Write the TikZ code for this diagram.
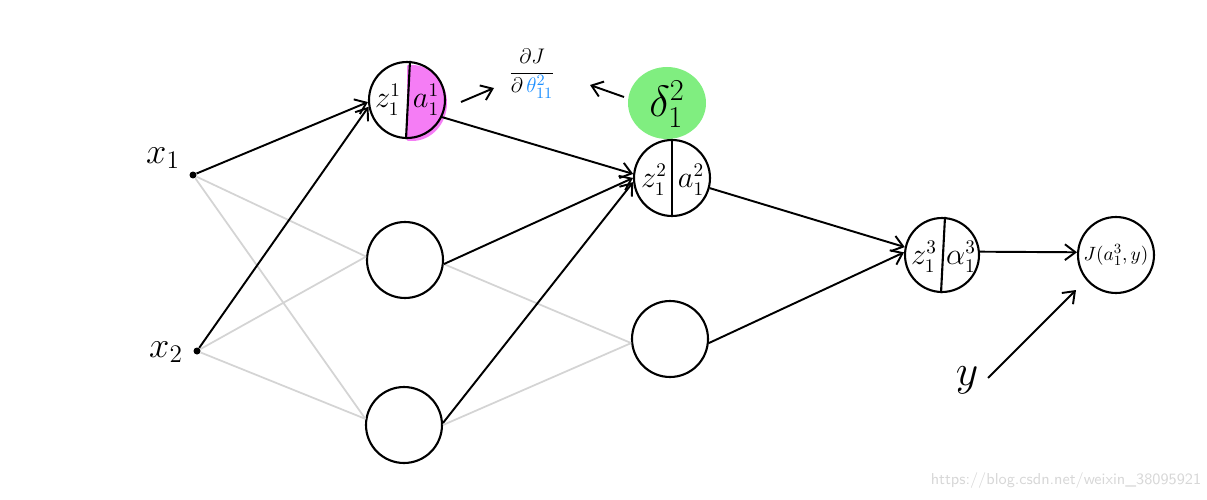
\documentclass[tikz,border=0pt]{standalone}
\usetikzlibrary{arrows.meta}
\definecolor{pinkfill}{RGB}{245,125,245}
\definecolor{greenfill}{RGB}{128,238,128}
\definecolor{thetablue}{RGB}{30,144,255}
\definecolor{lightgrayline}{RGB}{212,212,212}
\definecolor{wm}{RGB}{215,215,215}
\begin{document}
\begin{tikzpicture}[x=0.02cm,y=-0.02cm,
  neuron/.style={circle, draw, line width=1.2pt, minimum size=1.52cm, inner sep=0pt},
  inputdot/.style={circle, fill, inner sep=0pt, minimum size=0.14cm},
  conn/.style={line width=1.1pt, -{Straight Barb[length=6pt,width=9pt,line width=1.1pt]}},
  grayconn/.style={line width=1pt, lightgrayline},
  divider/.style={line width=1.2pt},
  lbl/.style={font=\fontsize{20}{24}\selectfont},
  inlbl/.style={font=\fontsize{16}{19}\selectfont, inner sep=0pt}
]
\useasboundingbox (0,0) rectangle (1207,500);

% highlights
\begin{scope}
  \clip (407,40) rectangle (470,160);
  \fill[pinkfill] (412,103) ellipse (35 and 38);
\end{scope}
\fill[greenfill] (667,103) ellipse (39 and 36);

% neurons
\node[neuron] (h11) at (407,100) {};
\node[neuron] (h12) at (405,260) {};
\node[neuron] (h13) at (404,425) {};
\node[neuron] (h21) at (672,178) {};
\node[neuron] (h22) at (670,339) {};
\node[neuron, minimum size=1.48cm] (o) at (942,255) {};
\node[neuron, font=\fontsize{11}{13}\selectfont] (J) at (1116,255) {$J(a^3_1,y)$};

% dividers and inner labels
\draw[divider] ([xshift=0.06cm]h11.north) -- ([xshift=-0.02cm]h11.south);
\node[inlbl] (z11) at (388,100) {$z^1_1$};
\node[inlbl] (a11) at (426,100) {$a^1_1$};
\draw[divider] (h21.north) -- (h21.south);
\node[inlbl] (z21) at (654,180) {$z^2_1$};
\node[inlbl] (a21) at (691,180) {$a^2_1$};
\draw[divider] ([xshift=0.06cm]o.north) -- ([xshift=-0.02cm]o.south);
\node[inlbl] (z31) at (924,257) {$z^3_1$};
\node[inlbl] (a31) at (961,257) {$\alpha^3_1$};

% inputs
\node[inputdot] (x1) at (193,175) {};
\node[inputdot] (x2) at (197,351) {};
\node[lbl] (lx1) at (163,158) {$x_1$};
\node[lbl] (lx2) at (166,352) {$x_2$};

% gray connections
\draw[grayconn] (x1) -- (h12.175);
\draw[grayconn] (x1) -- (h13.171);
\draw[grayconn] (x2) -- (h12.175);
\draw[grayconn] (x2) -- (h13.171);
\draw[grayconn] (h12.354) -- (h22.186);
\draw[grayconn] (h13.0) -- (h22.186);

% black connections
\draw[conn] (x1) -- (h11.183);
\draw[conn] (x2) -- (h11.190);
\draw[conn] (h11.334) -- (h21.174);
\draw[conn] (h12.354) -- (h21.180);
\draw[conn] (h13.3) -- (h21.186);
\draw[conn] (h21.345) -- (o.168);
\draw[conn] (h22.354) -- (o.176);
\draw[conn] (o.5) -- (J.176);

% y input
\node[font=\fontsize{28}{32}\selectfont] (ly) at (967,380) {$y$};
\coordinate (ya) at (988,378);
\coordinate (yb) at (1076,290);
\draw[conn] (ya) -- (yb);

% gradient annotation
\coordinate (ga1) at (461,102);
\coordinate (ga2) at (494,88);
\draw[conn] (ga1) -- (ga2);
\node[font=\fontsize{13}{15}\selectfont] (grad) at (532,74)
  {$\displaystyle\frac{\partial J}{\partial\, \textcolor{thetablue}{\theta^{2}_{11}}}$};
\coordinate (gb1) at (624,97);
\coordinate (gb2) at (590,85);
\draw[conn] (gb1) -- (gb2);
\node[font=\fontsize{26}{30}\selectfont] (delta) at (667,104) {$\delta^2_1$};

% watermark
\node[wm, font=\sffamily\fontsize{9}{11}\selectfont] (wmk) at (1066,481) {https://blog.csdn.net/weixin\_38095921};
\end{tikzpicture}
\end{document}
